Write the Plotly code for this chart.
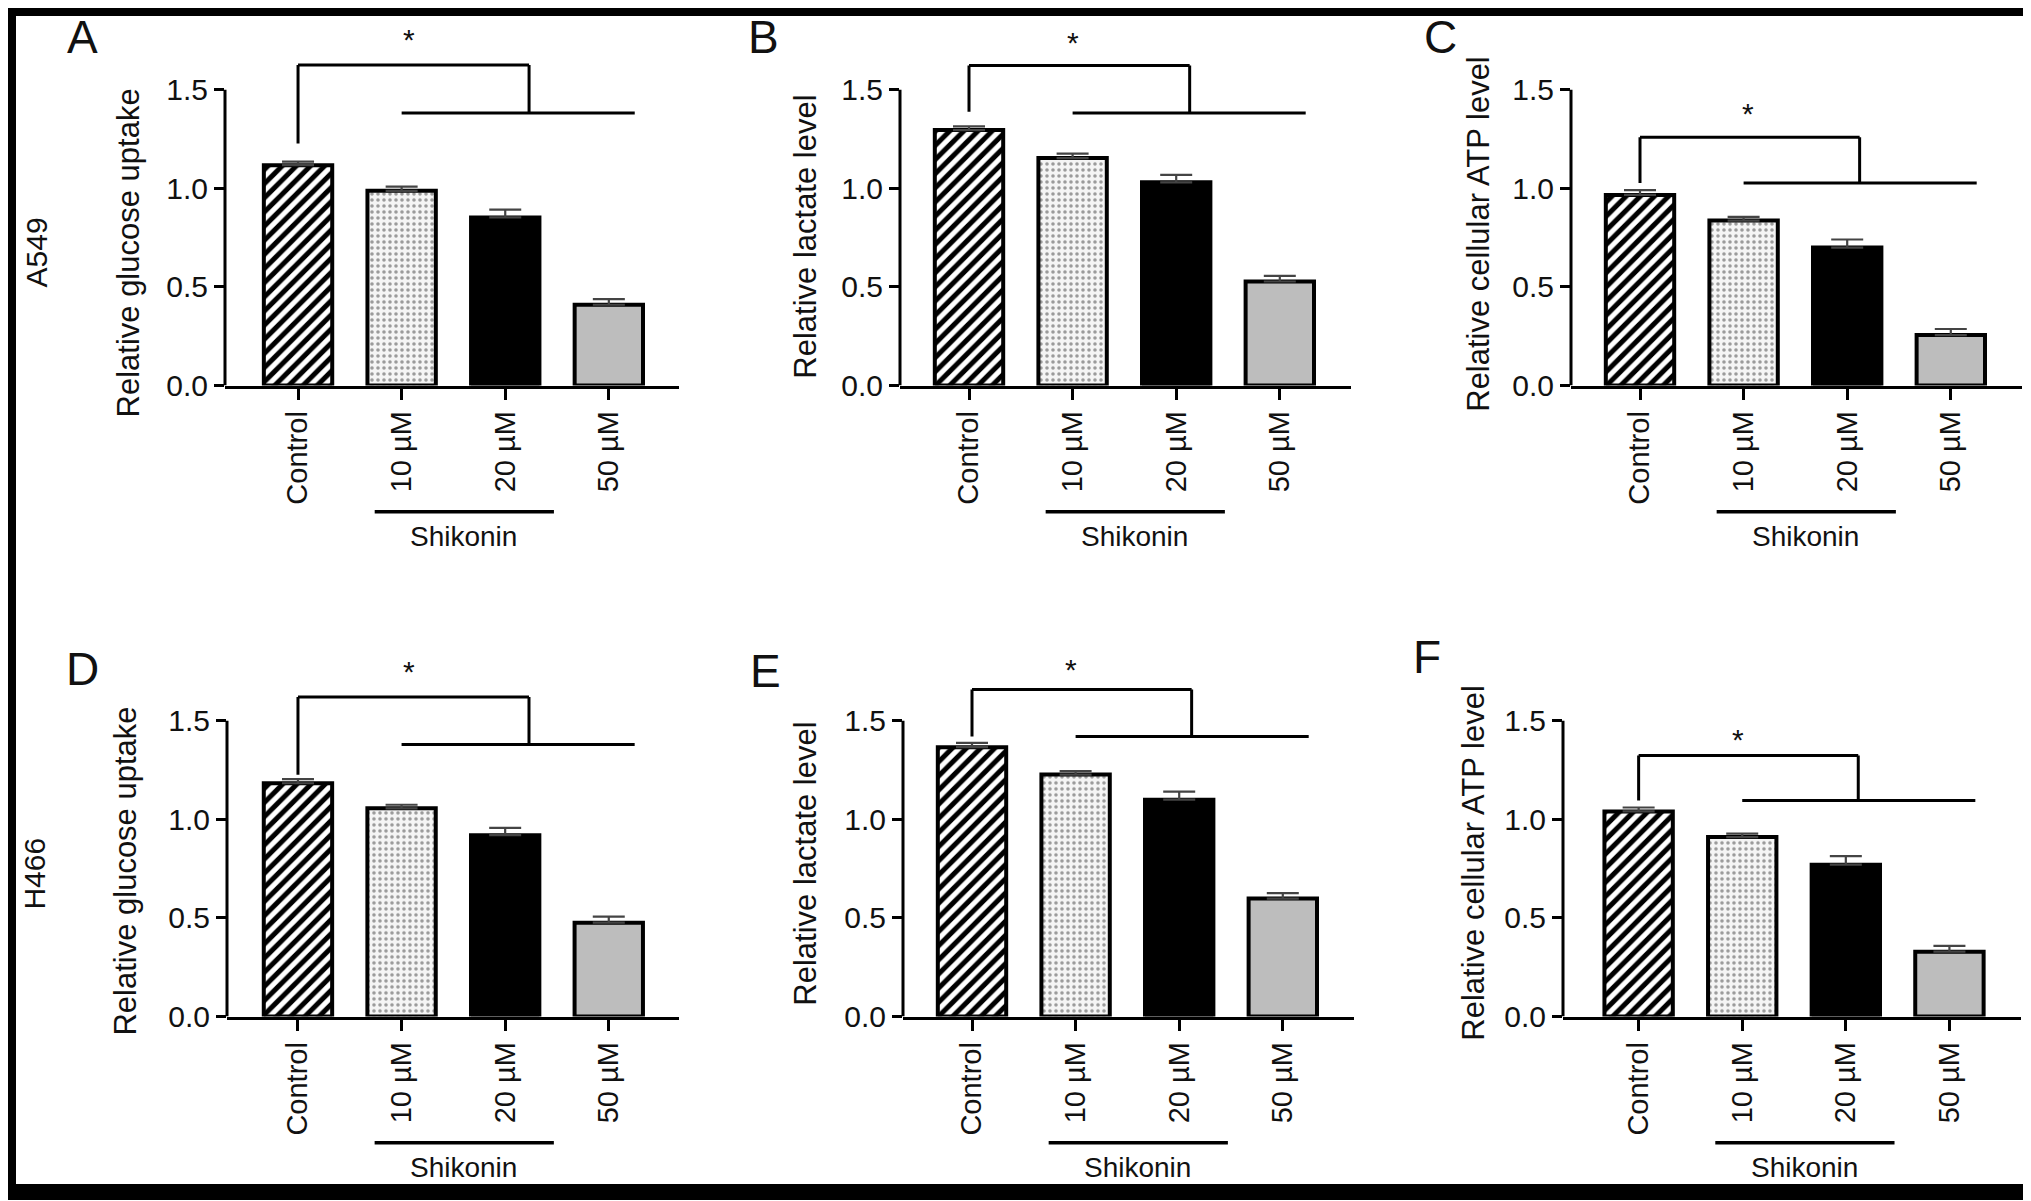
import plotly.graph_objects as go

W, H = 2031, 1201
FONT = "Liberation Sans"

categories = ["Control", "10 µM", "20 µM", "50 µM"]
tick_vals = [0, 0.5, 1.0, 1.5]
tick_text = ["0.0", "0.5", "1.0", "1.5"]

# bar heights and upper error caps
glucose_a549 = [1.118, 0.988, 0.853, 0.410]
glucose_a549_err = [0.018, 0.021, 0.039, 0.028]
lactate_a549 = [1.296, 1.154, 1.031, 0.528]
lactate_a549_err = [0.019, 0.022, 0.038, 0.028]
atp_a549 = [0.967, 0.837, 0.700, 0.256]
atp_a549_err = [0.024, 0.019, 0.041, 0.031]
glucose_h466 = [1.183, 1.056, 0.920, 0.476]
glucose_h466_err = [0.021, 0.018, 0.037, 0.031]
lactate_h466 = [1.366, 1.227, 1.100, 0.598]
lactate_h466_err = [0.022, 0.018, 0.041, 0.028]
atp_h466 = [1.040, 0.910, 0.770, 0.329]
atp_h466_err = [0.020, 0.018, 0.043, 0.029]

values = [glucose_a549, lactate_a549, atp_a549, glucose_h466, lactate_h466, atp_h466]
errors = [glucose_a549_err, lactate_a549_err, atp_a549_err,
          glucose_h466_err, lactate_h466_err, atp_h466_err]
y_titles = ["Relative glucose uptake", "Relative lactate level", "Relative cellular ATP level"] * 2
letters = ["A", "B", "C", "D", "E", "F"]
cell_lines = ["A549", "H466"]
group_label = "Shikonin"

# significance bracket per panel: control leg bottom, bracket top, right leg x, group line y, star x, star y
brackets = [
    (1.228, 1.626, 2.23, 1.382, 1.07, 1.736),
    (1.389, 1.624, 2.13, 1.383, 1.00, 1.720),
    (1.028, 1.259, 2.12, 1.028, 1.04, 1.361),
    (1.226, 1.620, 2.23, 1.380, 1.07, 1.730),
    (1.420, 1.658, 2.12, 1.420, 0.96, 1.742),
    (1.095, 1.324, 2.12, 1.095, 0.96, 1.383),
]

# layout geometry in pixels: y axis x, x axis end, left range, row
geom = [
    (217, 671, -0.705, 0), (892, 1343, -0.666, 0), (1563, 2014, -0.666, 0),
    (219, 671, -0.685, 1), (895, 1346, -0.666, 1), (1555, 2013, -0.73, 1),
]
rows_px = [(383, 83), (1023, 723)]  # (y of 0.0, y of 1.5)
letter_pos = [(74, 29), (755, 29), (1432, 29), (74, 670), (757, 673), (1419, 658)]
title_pos = [(120, 249), (798, 232), (1471, 229), (118, 876), (798, 868), (1466, 867)]
cell_pos = [(28, 248), (27, 878)]
Y_TOP = 1.9
PX_PER_X = 103.6

bar_color = ["white", "#f5f5f5", "black", "#bdbdbd"]
bar_shape = ["/", ".", "", ""]
bar_fg = ["black", "#9a9a9a", "black", "#bdbdbd"]
bar_size = [10, 6, 8, 8]
bar_solidity = [0.5, 0.28, 0.3, 0.3]


def px(x):
    return x / W


def py(y):
    return 1 - y / H


fig = go.Figure()
shapes = []
annotations = []
layout = {}
xpos = list(range(len(categories)))

for i in range(6):
    n = "" if i == 0 else str(i + 1)
    xl, xr, rl, row = geom[i]
    y0, y15 = rows_px[row]
    unit = (y0 - y15) / 1.5
    ytop = y0 - Y_TOP * unit
    rr = rl + (xr - xl) / PX_PER_X

    for k in xpos:
        pattern = dict(shape=bar_shape[k], fgcolor=bar_fg[k], bgcolor=bar_color[k],
                       size=bar_size[k], solidity=bar_solidity[k], fillmode="replace")
        fig.add_trace(go.Bar(
            x=[k], y=[values[i][k]], width=0.66,
            marker=dict(color=bar_color[k], line=dict(color="black", width=4), pattern=pattern),
            error_y=dict(type="data", array=[errors[i][k]], arrayminus=[0], symmetric=False,
                         color="#444", thickness=2.2, width=16),
            xaxis="x" + n, yaxis="y" + n, showlegend=False,
        ))

    layout["xaxis" + n] = dict(
        domain=[px(xl), px(xr)], anchor="y" + n, range=[rl, rr],
        tickvals=xpos, ticktext=categories, tickangle=-90,
        ticks="outside", ticklen=11, tickwidth=3, tickcolor="black",
        showline=True, linecolor="black", linewidth=3,
        showgrid=False, zeroline=False,
        tickfont=dict(family=FONT, size=29, color="#111"),
    )
    layout["yaxis" + n] = dict(
        domain=[py(y0), py(ytop)], anchor="x" + n, range=[0, Y_TOP],
        tickvals=tick_vals, ticktext=tick_text,
        ticks="outside", ticklen=10, tickwidth=3, tickcolor="black",
        showline=False, showgrid=False, zeroline=False,
        tickfont=dict(family=FONT, size=30, color="#111"),
    )

    line = dict(color="black", width=3)
    # y axis line only up to 1.5
    shapes.append(dict(type="line", xref="x" + n + " domain", yref="y" + n,
                       x0=0, x1=0, y0=0, y1=1.5, line=line))
    lo, top, rx, gy, sx, sy = brackets[i]
    xref, yref = "x" + n, "y" + n
    shapes.append(dict(type="line", xref=xref, yref=yref, x0=0, x1=0, y0=lo, y1=top, line=line))
    shapes.append(dict(type="line", xref=xref, yref=yref, x0=0, x1=rx, y0=top, y1=top, line=line))
    shapes.append(dict(type="line", xref=xref, yref=yref, x0=rx, x1=rx, y0=top, y1=gy, line=line))
    shapes.append(dict(type="line", xref=xref, yref=yref, x0=1.0, x1=3.25, y0=gy, y1=gy, line=line))
    annotations.append(dict(text="*", x=sx, y=sy, xref=xref, yref=yref, showarrow=False,
                            xanchor="center", yanchor="middle", yshift=4,
                            font=dict(family=FONT, size=30, color="#111")))

    # Shikonin group line under the treated columns
    shapes.append(dict(type="line", xref=xref, yref="paper", x0=0.74, x1=2.47,
                       y0=py(y0 + 128), y1=py(y0 + 128), line=dict(color="black", width=3.5)))
    annotations.append(dict(text=group_label, x=1.6, y=py(y0 + 153), xref=xref, yref="paper",
                            xanchor="center", yanchor="middle", showarrow=False,
                            font=dict(family=FONT, size=28, color="#111")))

    tx, ty = title_pos[i]
    annotations.append(dict(text=y_titles[i], x=px(tx), y=py(ty), xref="paper", yref="paper",
                            xanchor="center", yanchor="middle", textangle=-90, showarrow=False,
                            font=dict(family=FONT, size=31, color="#111")))
    lx, ly = letter_pos[i]
    annotations.append(dict(text=letters[i], x=px(lx), y=py(ly), xref="paper", yref="paper",
                            xanchor="center", yanchor="middle", showarrow=False,
                            font=dict(family=FONT, size=46, color="#111")))

for j, name in enumerate(cell_lines):
    cx, cy = cell_pos[j]
    annotations.append(dict(text=name, x=px(cx), y=py(cy), xref="paper", yref="paper",
                            xanchor="center", yanchor="middle", textangle=-90, showarrow=False,
                            font=dict(family=FONT, size=30, color="#111")))

# black frame around the whole figure
shapes.append(dict(type="rect", xref="paper", yref="paper", x0=0, x1=1, y0=0, y1=1,
                   line=dict(color="black", width=16)))

fig.update_layout(
    width=W, height=H,
    margin=dict(l=0, r=0, t=0, b=0),
    paper_bgcolor="white", plot_bgcolor="white",
    barmode="overlay",
    shapes=shapes, annotations=annotations,
    font=dict(family=FONT, color="#111"),
    **layout,
)

fig.write_html("out.html")
